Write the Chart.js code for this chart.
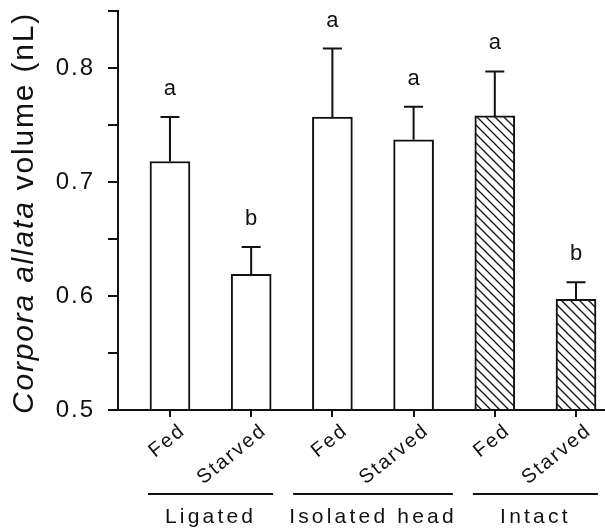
<!DOCTYPE html>
<html>
<head>
<meta charset="utf-8">
<script src="https://cdn.jsdelivr.net/npm/chart.js@4.4.1/dist/chart.umd.min.js"></script>
<style>
html, body { margin: 0; padding: 0; background: #fff; }
#wrap { width: 605px; height: 530px; }
</style>
</head>
<body>
<div id="wrap"><canvas id="cav" width="605" height="530"></canvas></div>
<script>
const conditions = ['Fed', 'Starved', 'Fed', 'Starved', 'Fed', 'Starved'];
const groups = ['Ligated', 'Isolated head', 'Intact'];
const positions = [1, 2, 3, 4, 5, 6];
const volume = [0.718, 0.619, 0.757, 0.737, 0.758, 0.597];
const sem = [0.039, 0.024, 0.060, 0.029, 0.039, 0.015];
const letters = ['a', 'b', 'a', 'a', 'a', 'b'];
const hatched = [false, false, false, false, true, true];
const yTickLabels = [0.5, 0.6, 0.7, 0.8];

const FONT = '"Liberation Sans", Arial, sans-serif';
const INK = '#111';

const canvas = document.getElementById('cav');
const ctx = canvas.getContext('2d');

// diagonal hatch for the intact bars
const tile = document.createElement('canvas');
tile.width = 9; tile.height = 9;
const tc = tile.getContext('2d');
tc.fillStyle = '#fff';
tc.fillRect(0, 0, 9, 9);
tc.strokeStyle = INK;
tc.lineWidth = 1.3;
tc.beginPath();
tc.moveTo(-1, -1); tc.lineTo(10, 10);
tc.moveTo(-1, 8); tc.lineTo(1, 10);
tc.moveTo(8, -1); tc.lineTo(10, 1);
tc.stroke();
const hatch = ctx.createPattern(tile, 'repeat');

const extras = {
    id: 'extras',
    beforeLayout(chart) { chart.ctx.letterSpacing = '2px'; },
    beforeDraw(chart) { chart.ctx.letterSpacing = '2px'; },
    afterDatasetsDraw(chart) {
        const { ctx, scales: { x, y } } = chart;
        ctx.save();
        ctx.strokeStyle = INK;
        ctx.fillStyle = INK;
        ctx.lineWidth = 2;

        // error bars (upper only) + significance letters
        positions.forEach((p, i) => {
            const px = x.getPixelForValue(p);
            const top = y.getPixelForValue(volume[i]);
            const err = y.getPixelForValue(volume[i] + sem[i]);
            ctx.beginPath();
            ctx.moveTo(px, top);
            ctx.lineTo(px, err);
            ctx.moveTo(px - 9.5, err);
            ctx.lineTo(px + 9.5, err);
            ctx.stroke();

            ctx.letterSpacing = '0px';
            ctx.font = '22px ' + FONT;
            ctx.textAlign = 'center';
            ctx.textBaseline = 'alphabetic';
            ctx.fillText(letters[i], px, err - 22);
        });

        // group lines and labels
        ctx.font = '21px ' + FONT;
        ctx.letterSpacing = '3.2px';
        groups.forEach((g, k) => {
            const a = x.getPixelForValue(positions[2 * k]);
            const b = x.getPixelForValue(positions[2 * k + 1]);
            const mid = (a + b) / 2;
            const w = ctx.measureText(g).width;
            const half = Math.max(62.5, w / 2 - 4);
            ctx.beginPath();
            ctx.moveTo(mid - half, 494);
            ctx.lineTo(mid + half, 494);
            ctx.stroke();
            ctx.textAlign = 'center';
            ctx.fillText(g, mid, 523);
        });

        // y title with italic genus part
        const t1 = 'Corpora allata';
        const t2 = ' volume (nL)';
        ctx.letterSpacing = '1.8px';
        ctx.font = 'italic 30px ' + FONT;
        const w1 = ctx.measureText(t1).width;
        ctx.font = '30px ' + FONT;
        const w2 = ctx.measureText(t2).width;
        const cy = (13 + 413) / 2;
        ctx.translate(33, cy);
        ctx.rotate(-Math.PI / 2);
        ctx.textAlign = 'left';
        ctx.font = 'italic 30px ' + FONT;
        ctx.fillText(t1, -(w1 + w2) / 2, 0);
        ctx.font = '30px ' + FONT;
        ctx.fillText(t2, -(w1 + w2) / 2 + w1, 0);
        ctx.restore();
    }
};

new Chart(canvas, {
    type: 'bar',
    data: {
        datasets: [{
            data: positions.map((p, i) => ({ x: p, y: volume[i] })),
            backgroundColor: hatched.map(h => h ? hatch : '#fff'),
            borderColor: INK,
            borderWidth: 2,
            barThickness: 40,
            base: 0.5
        }]
    },
    options: {
        responsive: false,
        animation: false,
        devicePixelRatio: 1,
        layout: { padding: { top: 11, left: 0, right: 0, bottom: 0 } },
        plugins: { legend: { display: false }, tooltip: { enabled: false } },
        scales: {
            x: {
                type: 'linear',
                offset: false,
                min: 0.36,
                max: 6.357,
                afterBuildTicks: s => { s.ticks = positions.map(v => ({ value: v })); },
                afterFit: s => { s.height = 120; s.paddingLeft = 0; s.paddingRight = 0; },
                grid: { display: true, offset: false, drawOnChartArea: false, drawTicks: true, tickLength: 7, color: INK, lineWidth: 2 },
                border: { display: true, color: INK, width: 2 },
                ticks: {
                    autoSkip: false,
                    minRotation: 39,
                    maxRotation: 39,
                    labelOffset: 13,
                    padding: 2,
                    color: INK,
                    font: { size: 20, family: FONT },
                    callback: (v, i) => conditions[i]
                }
            },
            y: {
                min: 0.5,
                max: 0.85,
                afterFit: s => { s.width = 118; s.paddingTop = 0; s.paddingBottom = 0; },
                grid: { display: true, drawOnChartArea: false, drawTicks: true, tickLength: 10, color: INK, lineWidth: 2 },
                border: { display: true, color: INK, width: 2 },
                ticks: {
                    stepSize: 0.05,
                    padding: 13,
                    color: INK,
                    font: { size: 24, family: FONT },
                    callback: v => {
                        const t = yTickLabels.find(l => Math.abs(l - v) < 1e-6);
                        return t === undefined ? '' : t.toFixed(1);
                    }
                }
            }
        }
    },
    plugins: [extras]
});
</script>
</body>
</html>
